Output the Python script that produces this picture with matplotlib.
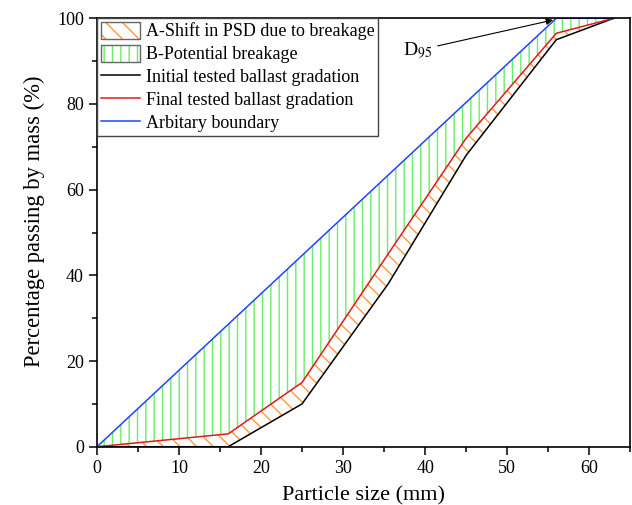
import numpy as np
import matplotlib
matplotlib.use('Agg')
import matplotlib.pyplot as plt
from matplotlib.patches import Patch
from matplotlib.lines import Line2D
from matplotlib.legend_handler import HandlerTuple
from matplotlib.ticker import MultipleLocator

plt.rcParams['font.family'] = ['Liberation Serif', 'DejaVu Serif']
plt.rcParams['mathtext.fontset'] = 'stix'
plt.rcParams['hatch.linewidth'] = 1.0

# sieve sizes (mm) and percentage passing
size_initial = [0, 16, 25, 35.5, 45, 56, 63]
pass_initial = [0, 0, 10, 38, 68, 95, 100]

size_final = [0, 16, 25, 35.5, 45, 56, 63]
pass_final = [0, 3, 15, 45, 72, 96.5, 100]

size_boundary = [0, 56, 63]
pass_boundary = [0, 100, 100]

ORANGE = '#ff9a3c'
GREEN = '#66ee66'

fig = plt.figure(figsize=(6.32, 5.05), dpi=100)
ax = fig.add_axes([0.1535, 0.1154, 0.8435, 0.8484])

# A: area between initial and final gradation
xa = np.r_[size_final, size_initial[::-1]]
ya = np.r_[pass_final, pass_initial[::-1]]
ax.fill(xa, ya, facecolor='none', edgecolor=ORANGE, hatch='\\\\', linewidth=0)

# B: area between final gradation and the boundary
xb = np.r_[size_boundary, size_final[::-1]]
yb = np.r_[pass_boundary, pass_final[::-1]]
ax.fill(xb, yb, facecolor='none', edgecolor=GREEN, hatch='||', linewidth=0)

ax.plot(size_initial, pass_initial, color='black', lw=1.1)
ax.plot(size_final, pass_final, color='#e01b1b', lw=1.1)
ax.plot(size_boundary, pass_boundary, color='#2244ff', lw=1.1)

ax.annotate('D$_{95}$', xy=(55.6, 99.6), xytext=(37.3, 92.5),
            fontsize=14, va='center', ha='left',
            arrowprops=dict(arrowstyle='-|>', color='black', lw=0.8,
                            shrinkA=2, shrinkB=0, mutation_scale=10))

ax.set_xlim(0, 65)
ax.set_ylim(0, 100)
ax.xaxis.set_major_locator(MultipleLocator(10))
ax.xaxis.set_minor_locator(MultipleLocator(5))
ax.yaxis.set_major_locator(MultipleLocator(20))
ax.yaxis.set_minor_locator(MultipleLocator(10))
ax.tick_params(which='major', direction='out', length=6, width=1.1, labelsize=13)
ax.tick_params(which='minor', direction='out', length=3.5, width=1.1)
for sp in ax.spines.values():
    sp.set_linewidth(1.2)

ax.set_xlabel('Particle size (mm)', fontsize=16, labelpad=7)
ax.set_ylabel('Percentage passing by mass (%)', fontsize=16.3)
ax.yaxis.set_label_coords(-0.098, 0.527)

# legend: hatched swatches get a grey outline on top of the hatch
box = Patch(facecolor='none', edgecolor='#666666', lw=1.0)
handles = [
    (Patch(facecolor='white', edgecolor=ORANGE, hatch='\\\\', lw=0), box),
    (Patch(facecolor='white', edgecolor=GREEN, hatch='||', lw=0), box),
    Line2D([], [], color='black', lw=1.1),
    Line2D([], [], color='#e01b1b', lw=1.1),
    Line2D([], [], color='#2244ff', lw=1.1),
]
labels = ['A-Shift in PSD due to breakage', 'B-Potential breakage',
          'Initial tested ballast gradation', 'Final tested ballast gradation',
          'Arbitary boundary']
leg = ax.legend(handles, labels, loc='upper left', borderaxespad=0,
                fontsize=13, fancybox=False, framealpha=1,
                edgecolor='#444444', handlelength=2.2, handleheight=1.05,
                handletextpad=0.3, labelspacing=0.24, borderpad=0.2,
                handler_map={tuple: HandlerTuple(ndivide=1, pad=0)})
leg.get_frame().set_linewidth(1.0)

fig.savefig('out.png', dpi=100)
